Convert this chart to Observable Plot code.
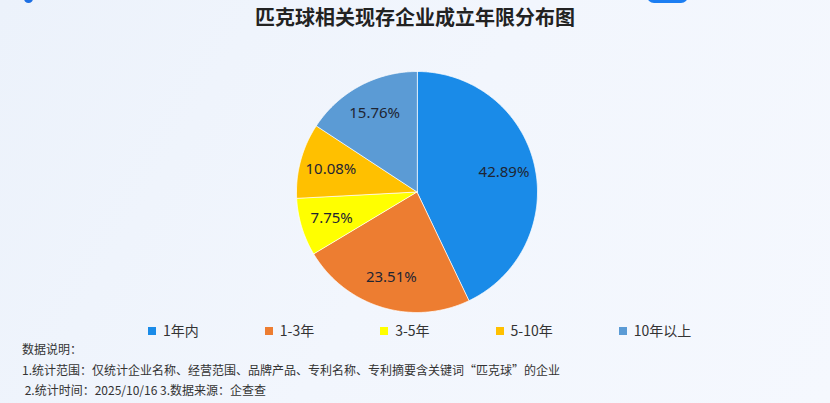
<!DOCTYPE html>
<html>
<head>
<meta charset="utf-8">
<script src="https://cdn.jsdelivr.net/npm/d3@7"></script>
<script src="https://cdn.jsdelivr.net/npm/@observablehq/plot@0.6"></script>
<style>
  html, body { margin: 0; padding: 0; }
  body {
    width: 830px; height: 403px; overflow: hidden; position: relative;
    background: linear-gradient(120deg, #ecf2fb 0%, #f2f6fd 50%, #f5f8fe 100%);
    font-family: "Noto Sans CJK SC", "Noto Sans", sans-serif;
  }
  #title {
    position: absolute; left: 0; top: 4px; width: 830px; text-align: center;
    font-size: 20px; font-weight: bold; color: #222; line-height: 26px;
  }
  #chart { position: absolute; left: 0; top: 60px; }
  #legend {
    position: absolute; left: 148px; top: 323px; display: flex; gap: 66px;
    font-size: 14px; color: #333; line-height: 15px;
  }
  #legend .item { display: flex; align-items: center; }
  #legend .sw { width: 8px; height: 8px; margin-right: 7px; }
  #notes {
    position: absolute; left: 22px; top: 339px; font-size: 12px; color: #333;
    line-height: 20.5px; white-space: pre;
  }
  .deco1 { position: absolute; left: 24px; top: -6px; width: 9px; height: 9px; border-radius: 50%; background: #1d6fe3; }
  .deco2 { position: absolute; left: 647px; top: -12px; width: 41px; height: 15px; border-radius: 7px; background: #1c7ef2; }
</style>
</head>
<body>
<div class="deco1"></div>
<div class="deco2"></div>
<div id="title"></div>
<div id="chart"></div>
<div id="legend"></div>
<div id="notes"></div>
<script>
const chartTitle = "匹克球相关现存企业成立年限分布图";
const categories = ["1年内", "1-3年", "3-5年", "5-10年", "10年以上"];
const shares = [42.89, 23.51, 7.75, 10.08, 15.76];
const colors = ["#1a8be8", "#ed7d31", "#ffff00", "#ffc000", "#5b9bd5"];
const notes = [
  "数据说明：",
  "1.统计范围：仅统计企业名称、经营范围、品牌产品、专利名称、专利摘要含关键词“匹克球”的企业",
  " 2.统计时间：2025/10/16 3.数据来源：企查查"
];

document.getElementById("title").textContent = chartTitle;
document.getElementById("notes").textContent = notes.join("\n");

// legend
const legend = document.getElementById("legend");
categories.forEach((c, i) => {
  const it = document.createElement("div"); it.className = "item";
  const sw = document.createElement("div"); sw.className = "sw"; sw.style.background = colors[i];
  const tx = document.createElement("span"); tx.textContent = c;
  it.appendChild(sw); it.appendChild(tx); legend.appendChild(it);
});

// pie geometry in unit coordinates (angle clockwise from top)
const total = d3.sum(shares);
const slices = [];
const labels = [];
let acc = 0;
categories.forEach((c, i) => {
  const a0 = acc / total * 2 * Math.PI;
  acc += shares[i];
  const a1 = acc / total * 2 * Math.PI;
  slices.push({key: c, x: 0, y: 0});
  const n = Math.max(2, Math.ceil((a1 - a0) / (Math.PI / 360)));
  for (let k = 0; k <= n; k++) {
    const a = a0 + (a1 - a0) * k / n;
    slices.push({key: c, x: Math.sin(a), y: Math.cos(a)});
  }
  const m = (a0 + a1) / 2;
  labels.push({key: c, text: shares[i].toFixed(2) + "%", x: 0.74 * Math.sin(m), y: 0.74 * Math.cos(m)});
});

const cx = 416.5, cy = 131.5, R = 120.5;
const plot = Plot.plot({
  width: 830,
  height: 260,
  margin: 0,
  style: {background: "transparent", fontFamily: "'Noto Sans', 'Noto Sans CJK SC', sans-serif"},
  x: {domain: [-1, 1], range: [cx - R, cx + R], axis: null},
  y: {domain: [-1, 1], range: [cy + R, cy - R], axis: null},
  color: {domain: categories, range: colors},
  marks: [
    Plot.line(slices, {x: "x", y: "y", z: "key", fill: "key", stroke: "#ffffff", strokeWidth: 1, strokeOpacity: 0.75, curve: "linear-closed"}),
    Plot.text(labels, {x: "x", y: "y", text: "text", fill: "#1f2533", fontSize: 15})
  ]
});
document.getElementById("chart").appendChild(plot);
</script>
</body>
</html>
